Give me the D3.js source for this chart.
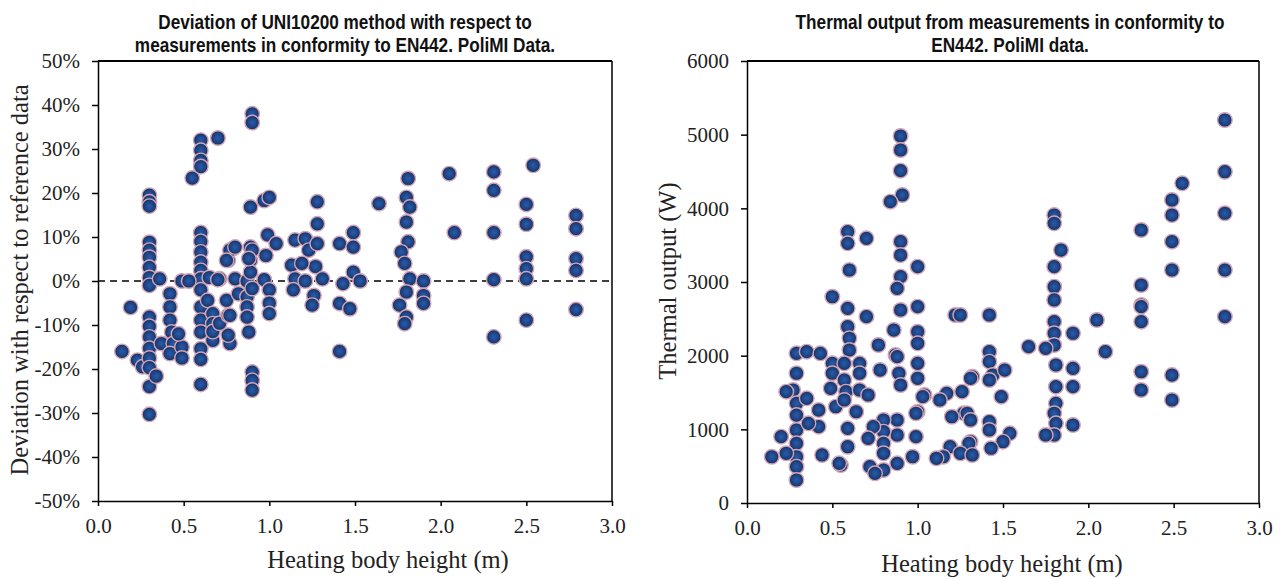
<!DOCTYPE html>
<html>
<head>
<meta charset="utf-8">
<script src="https://cdn.jsdelivr.net/npm/d3@7"></script>
<style>
  body { margin: 0; background: #fff; }
</style>
</head>
<body>
<div id="chart"></div>
<script>
// ---- data ----
// left chart: heating body height (m) vs deviation (%)
var devHeight = [
  0.14, 0.19, 0.23, 0.26,
  0.3, 0.3, 0.3, 0.3, 0.3, 0.3, 0.3, 0.3, 0.3, 0.3, 0.3, 0.3, 0.3, 0.3, 0.3, 0.3, 0.3,
  0.34, 0.36, 0.37,
  0.42, 0.42, 0.42, 0.43, 0.44, 0.42, 0.49, 0.49, 0.49, 0.47,
  0.55, 0.6, 0.6, 0.6, 0.6, 0.6, 0.6, 0.6, 0.6, 0.6, 0.6, 0.6, 0.6, 0.6, 0.6, 0.6, 0.6, 0.6, 0.53, 0.7,
  0.64, 0.67, 0.67, 0.67, 0.67, 0.71, 0.71, 0.76, 0.79, 0.8, 0.76, 0.77, 0.75, 0.82, 0.76, 0.77, 0.65,
  0.77, 0.8, 0.75, 0.7,
  0.9, 0.9, 0.89, 0.97, 1.0, 0.87, 0.89, 0.89, 0.87, 0.87, 0.87, 0.88, 0.9, 0.9, 0.9, 0.9, 0.89, 0.88, 0.9,
  0.97, 0.99, 1.04, 0.98, 1.0, 1.0, 1.0,
  1.13, 1.15, 1.15, 1.21, 1.23, 1.28, 1.28, 1.28, 1.27, 1.14, 1.19, 1.31, 1.26, 1.21, 1.25,
  1.41, 1.49, 1.49, 1.49, 1.53, 1.43, 1.41, 1.47, 1.41,
  1.64,
  1.81, 1.8, 1.82, 1.8, 1.81, 1.77, 1.79, 1.82, 1.76, 1.8, 1.79, 1.8,
  1.9, 1.9, 1.9,
  2.05, 2.08,
  2.31, 2.31, 2.31, 2.31, 2.31,
  2.54, 2.5, 2.5, 2.5, 2.5, 2.5, 2.5,
  2.79, 2.79, 2.79, 2.79, 2.79
];
var devPct = [
  -16, -6, -18, -19.5,
  19.5, 18, 17, 8.8, 7, 5.4, 3.1, 0.8, -1, -8.2, -10.3, -12.7, -15.3, -17.5, -19.7, -24, -30.3,
  -21.6, 0.5, -14.2,
  -2.9, -5.9, -8.9, -11.6, -14.2, -16.5, 0, -15, -17.5, -12,
  23.4, 32, 29.7, 27.4, 26, 11, 9, 6.6, 4.3, 2.4, 0.5, -2, -5.9, -8.9, -11.6, -15.4, -17.8, -23.5, 0, 32.5,
  -4.4, -7.4, -9.7, -13.5, -11.5, 0.5, -9.6, 4.7, 7.4, 0.5, -7.8, -14.2, -4.4, -2.9, -12.3, 7, 0.8,
  -7.8, 7.7, 4.7, 0.3,
  38, 36, 16.8, 18.3, 19, 0, 4.7, 7.7, -3.6, -5.9, -8.2, -11.6, -20.7, -22.6, -24.8, 7, 2, 5.1, -1.7,
  0.3, 10.5, 8.5, 5.8, -2, -5, -7.4,
  3.6, 9.3, 0.5, 9.6, 7, 13, 18, 8.5, 3.3, -2, 4, 0.5, -3.3, 0, -5.5,
  8.5, 11, 7.7, 2, 0, -0.6, -5.1, -6.3, -16,
  17.6,
  23.3, 19, 16.8, 13.4, 8.9, 6.6, 4, 0.5, -5.5, -8.2, -9.7, -2.5,
  0, -3.3, -5.1,
  24.4, 11,
  24.8, 20.6, 11, 0.3, -12.7,
  26.3, 17.4, 12.9, 5.5, 2.8, 0.5, -8.9,
  14.9, 11.9, 5.1, 2.4, -6.5
];

// right chart: heating body height (m) vs thermal output (W)
var outHeight = [
  0.9, 0.9, 0.9, 0.91, 0.84, 0.59, 0.59, 0.7, 0.6, 0.9, 0.9, 0.9, 0.88, 1.0, 0.5,
  0.59, 0.7, 0.9, 1.0, 1.22, 0.59, 0.6, 0.6, 0.86, 0.77, 0.87, 1.0, 1.0, 1.0, 1.0, 1.04,
  0.29, 0.35, 0.29, 0.43, 0.5, 0.5, 0.49, 0.52, 0.57, 0.57, 0.58, 0.57, 0.66, 0.66, 0.66, 0.71, 0.64, 0.59, 0.59, 0.55,
  0.78, 0.88, 0.89, 0.9, 1.0, 0.99, 0.97, 0.88, 0.88, 0.88, 0.8, 0.8, 0.8, 0.8, 0.8, 0.74, 0.71, 0.72, 0.75,
  0.27, 0.29, 0.29, 0.29, 0.29, 0.29, 0.29, 0.29, 0.23, 0.35, 0.42, 0.42, 0.36, 0.2, 0.145, 0.23, 0.44, 0.54,
  2.8, 2.8, 2.8, 2.8, 2.8, 2.55, 2.49, 2.49, 2.49, 2.49, 2.49, 2.49, 2.31, 2.31, 2.31, 2.31, 2.31, 2.31, 2.31,
  1.8, 1.8, 1.84, 1.8, 1.8, 1.8, 1.8, 1.8, 1.8, 1.75, 1.91, 1.65, 1.81, 1.91, 1.81, 1.91, 1.81, 1.8, 1.81, 1.91, 1.8, 1.75,
  2.05, 2.1,
  1.42, 1.42, 1.42, 1.44, 1.51, 1.49, 1.42, 1.32, 1.42, 1.42, 1.54, 1.5, 1.43, 1.31, 1.31, 1.27, 1.25,
  1.31, 1.17, 1.26, 1.13, 1.2, 1.29, 1.31, 1.19, 1.3, 1.25, 1.15, 1.11, 1.32, 0.99, 1.03
];
var outWatt = [
  4982, 4792, 4511, 4181, 4090, 3683, 3525, 3593, 3163, 3547, 3366, 3072, 2914, 3208, 2800,
  2643, 2529, 2620, 2665, 2552, 2393, 2236, 2077, 2348, 2145, 2009, 2325, 2168, 1896, 1693, 1466,
  2032, 2054, 1761, 2032, 1896, 1761, 1557, 1307, 1896, 1670, 1511, 1398, 1896, 1761, 1534, 1466, 1239, 1014, 764, 516,
  1805, 1986, 1761, 1602, 1239, 900, 628, 1127, 923, 539, 1127, 968, 810, 675, 448, 1036, 878, 493, 403,
  1534, 1353, 1194, 991, 810, 628, 493, 312, 1511, 1421, 1262, 1036, 1082, 900, 628, 675, 652, 539,
  5199, 4497, 3933, 3163, 2529, 4340, 4113, 3909, 3547, 3163, 1737, 1398, 3706, 2959, 2688, 2665, 2461, 1782, 1534,
  3909, 3797, 3434, 3208, 2936, 2756, 2461, 2304, 2145, 2100, 2304, 2122, 1873, 1828, 1579, 1579, 1353, 1218, 1082, 1059, 923, 923,
  2484, 2054,
  2552, 2054, 1918, 1737, 1805, 1443, 1670, 1714, 1104, 991, 946, 832, 743, 832, 675, 1218, 2552,
  1693, 1489, 1511, 1398, 1171, 1218, 1127, 764, 810, 675, 628, 607, 652, 1218, 1443
];

var heightTicks = [0, 0.5, 1.0, 1.5, 2.0, 2.5, 3.0];
var devTicks = [-50, -40, -30, -20, -10, 0, 10, 20, 30, 40, 50];
var wattTicks = [0, 1000, 2000, 3000, 4000, 5000, 6000];

var leftTitle = ["Deviation of UNI10200 method with respect to", "measurements in conformity to EN442. PoliMI Data."];
var rightTitle = ["Thermal output from measurements in conformity to", "EN442. PoliMI data."];

var serif = "'Liberation Serif', 'Times New Roman', serif";
var titleFont = "'Liberation Sans', Arial, sans-serif";

// ---- svg setup ----
var svgWidth = 1284;
var svgHeight = 579;

var svg = d3.select("#chart")
  .append("svg")
  .attr("width", svgWidth)
  .attr("height", svgHeight);

// marker look: blue ball with a pinkish rim
var defs = svg.append("defs");
var grad = defs.append("radialGradient")
  .attr("id", "dotGrad")
  .attr("cx", "50%").attr("cy", "50%").attr("r", "50%");
grad.append("stop").attr("offset", "0%").attr("stop-color", "#2a5bab");
grad.append("stop").attr("offset", "60%").attr("stop-color", "#1e4585");
grad.append("stop").attr("offset", "100%").attr("stop-color", "#152e5c");

function drawPanel(opts) {
  var g = svg.append("g");

  var x = d3.scaleLinear().domain([0, 3]).range([opts.left, opts.right]);
  var y = d3.scaleLinear().domain(opts.yDomain).range([opts.bottom, opts.top]);

  // frame top + right
  g.append("line")
    .attr("x1", opts.left).attr("x2", opts.right)
    .attr("y1", opts.top).attr("y2", opts.top)
    .attr("stroke", "#000").attr("stroke-width", 2);
  g.append("line")
    .attr("x1", opts.right).attr("x2", opts.right)
    .attr("y1", opts.top).attr("y2", opts.bottom)
    .attr("stroke", "#000").attr("stroke-width", 1.5);

  // axes
  var xAxis = g.append("g")
    .attr("transform", `translate(0, ${opts.bottom})`)
    .call(d3.axisBottom(x).tickValues(heightTicks).tickSize(5).tickSizeOuter(0).tickPadding(12)
      .tickFormat(d3.format(".1f")));
  var yAxis = g.append("g")
    .attr("transform", `translate(${opts.left}, 0)`)
    .call(d3.axisLeft(y).tickValues(opts.yTicks).tickSize(6).tickSizeOuter(0).tickPadding(12)
      .tickFormat(opts.yFormat));
  g.selectAll(".domain").attr("stroke", "#000").attr("stroke-width", 1.5);
  g.selectAll(".tick line").attr("stroke", "#000").attr("stroke-width", 1.5);
  g.selectAll(".tick text")
    .style("font-family", serif)
    .style("font-size", "21px")
    .style("fill", "#222");

  if (opts.zeroLine) {
    g.append("line")
      .attr("x1", opts.left).attr("x2", opts.right)
      .attr("y1", y(0)).attr("y2", y(0))
      .attr("stroke", "#000").attr("stroke-width", 1.5)
      .attr("stroke-dasharray", "7,5");
  }

  // points
  g.append("g")
    .selectAll("circle")
    .data(opts.xs.map((d, i) => [d, opts.ys[i]]))
    .enter()
    .append("circle")
    .attr("cx", d => x(d[0]))
    .attr("cy", d => y(d[1]))
    .attr("r", 7.3)
    .attr("fill", "url(#dotGrad)")
    .attr("stroke", "#d2a4b6")
    .attr("stroke-width", 1.4);

  // titles (bold, squeezed like a narrow face)
  opts.title.forEach(function(line, i) {
    g.append("text")
      .attr("transform", `translate(${opts.titleX}, ${opts.titleY + i * 23}) scale(0.86, 1)`)
      .attr("text-anchor", "middle")
      .style("font-family", titleFont)
      .style("font-size", "20px")
      .style("font-weight", "bold")
      .style("fill", "#111")
      .text(line);
  });

  g.append("text")
    .attr("text-anchor", "middle")
    .attr("x", opts.xTitleX)
    .attr("y", opts.xTitleY)
    .style("font-family", serif)
    .style("font-size", "24.5px")
    .style("fill", "#222")
    .text("Heating body height (m)");

  g.append("text")
    .attr("text-anchor", "middle")
    .attr("transform", `translate(${opts.yTitleX}, ${opts.yTitleY}) rotate(-90)`)
    .style("font-family", serif)
    .style("font-size", "24.5px")
    .style("fill", "#222")
    .text(opts.yTitle);
}

drawPanel({
  left: 98, right: 612, top: 61, bottom: 501,
  yDomain: [-50, 50], yTicks: devTicks, yFormat: d => d + "%",
  zeroLine: true,
  xs: devHeight, ys: devPct,
  title: leftTitle, titleX: 345, titleY: 29,
  xTitleX: 388, xTitleY: 568,
  yTitle: "Deviation with respect to reference data", yTitleX: 28, yTitleY: 280
});

drawPanel({
  left: 747, right: 1259, top: 61, bottom: 503,
  yDomain: [0, 6000], yTicks: wattTicks, yFormat: d => d,
  zeroLine: false,
  xs: outHeight, ys: outWatt,
  title: rightTitle, titleX: 1010, titleY: 29,
  xTitleX: 1002, xTitleY: 572,
  yTitle: "Thermal output (W)", yTitleX: 676, yTitleY: 281
});
</script>
</body>
</html>
